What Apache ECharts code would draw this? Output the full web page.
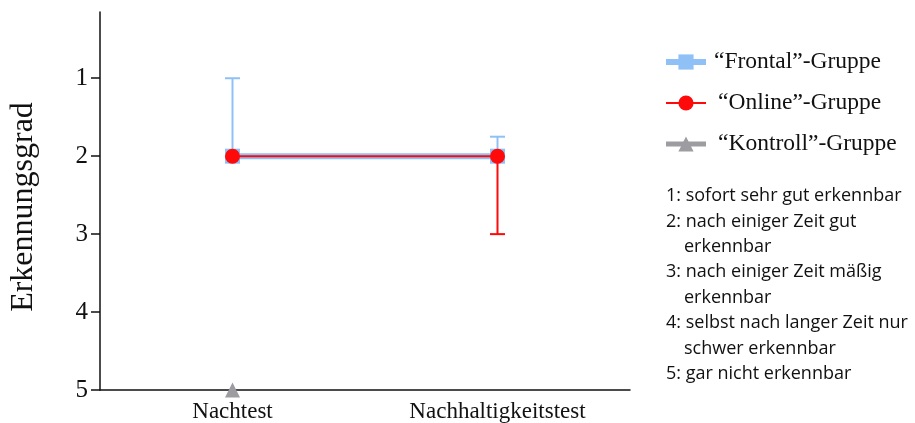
<!DOCTYPE html>
<html>
<head>
<meta charset="utf-8">
<script src="https://cdn.jsdelivr.net/npm/echarts@6/dist/echarts.min.js"></script>
<style>
  html, body { margin: 0; padding: 0; background: #fff; }
  #chart { width: 915px; height: 423px; }
</style>
</head>
<body>
<div id="chart"></div>
<script>
// Test phases on the x axis
const categories = ['Nachtest', 'Nachhaltigkeitstest'];
const yTicks = [1, 2, 3, 4, 5];

// Median rating per group (1 = best, 5 = worst)
const frontal = [2, 2];
const online = [2, 2];
const kontroll = [5, null];

// Spread per group: [category index, from, to]
const frontalRange = [[0, 2, 1], [1, 2, 1.75]];
const onlineRange = [[1, 2, 3]];

const legendNames = ['\u201CFrontal\u201D-Gruppe', '\u201COnline\u201D-Gruppe', '\u201CKontroll\u201D-Gruppe'];

// Scale explanation: [text, continuation line?]
const scaleNotes = [
  ['1: sofort sehr gut erkennbar', false],
  ['2: nach einiger Zeit gut', false],
  ['erkennbar', true],
  ['3: nach einiger Zeit mäßig', false],
  ['erkennbar', true],
  ['4: selbst nach langer Zeit nur', false],
  ['schwer erkennbar', true],
  ['5: gar nicht erkennbar', false]
];

const BLUE = '#8fc1f6';
const RED = '#ff0a0a';
const GRAY = '#9d9da1';
const SERIF = '"Liberation Serif", "DejaVu Serif", serif';
const SANS = '"Open Sans", Lato, sans-serif';

function errorBars(color) {
  return function (params, api) {
    const x = api.value(0);
    const a = api.coord([x, api.value(1)]);
    const b = api.coord([x, api.value(2)]);
    const half = 7.5;
    const style = { stroke: color, lineWidth: 2 };
    return {
      type: 'group',
      children: [
        { type: 'line', shape: { x1: a[0], y1: a[1], x2: b[0], y2: b[1] }, style: style },
        { type: 'line', shape: { x1: b[0] - half, y1: b[1], x2: b[0] + half, y2: b[1] }, style: style }
      ]
    };
  };
}

const noteTexts = scaleNotes.map(function (row, i) {
  return {
    type: 'text',
    left: row[1] ? 684 : 666,
    top: 187 + i * 25.4,
    style: { text: row[0], fontFamily: SANS, fontSize: 18, fill: '#111' }
  };
});

const chart = echarts.init(document.getElementById('chart'), null, { renderer: 'canvas' });

chart.setOption({
  animation: false,
  backgroundColor: '#fff',
  grid: { left: 98, right: 285, top: 12, bottom: 33 },
  legend: {
    orient: 'vertical',
    left: 663,
    top: 50,
    padding: 0,
    itemWidth: 40,
    itemHeight: 19,
    itemGap: 17,
    data: [
      { name: legendNames[0], textStyle: { padding: [0, 0, 0, 3] } },
      { name: legendNames[1], textStyle: { padding: [0, 0, 0, 7] } },
      { name: legendNames[2], textStyle: { padding: [0, 0, 0, 7] } }
    ],
    lineStyle: { width: 'inherit' },
    textStyle: { fontFamily: SERIF, fontSize: 23.5, color: '#111' }
  },
  xAxis: {
    type: 'category',
    data: categories,
    boundaryGap: true,
    axisLine: { onZero: false, lineStyle: { color: '#111', width: 1.5 } },
    axisTick: { alignWithLabel: true, length: 6, lineStyle: { color: '#111', width: 1.5 } },
    axisLabel: { fontFamily: SERIF, fontSize: 23, color: '#111', margin: 10 }
  },
  yAxis: {
    type: 'value',
    inverse: true,
    min: 0.15,
    max: 5,
    name: 'Erkennungsgrad',
    nameLocation: 'middle',
    nameRotate: 90,
    nameGap: 60,
    nameTextStyle: { fontFamily: SERIF, fontSize: 32, color: '#111', padding: [0, 12, 0, 0] },
    splitLine: { show: false },
    axisLine: { show: true, lineStyle: { color: '#111', width: 1.5 } },
    axisTick: { show: true, length: 9, customValues: yTicks, lineStyle: { color: '#111', width: 1.5 } },
    axisLabel: { customValues: yTicks, fontFamily: SERIF, fontSize: 25, color: '#111', margin: 12 }
  },
  graphic: noteTexts,
  series: [
    {
      type: 'custom',
      name: 'Frontal Streuung',
      renderItem: errorBars(BLUE),
      data: frontalRange,
      z: 1,
      silent: true
    },
    {
      type: 'line',
      name: legendNames[0],
      data: frontal,
      symbol: 'rect',
      symbolSize: 15,
      color: BLUE,
      lineStyle: { color: BLUE, width: 6 },
      itemStyle: { color: BLUE },
      z: 2
    },
    {
      type: 'custom',
      name: 'Online Streuung',
      renderItem: errorBars(RED),
      data: onlineRange,
      z: 3,
      silent: true
    },
    {
      type: 'line',
      name: legendNames[1],
      data: online,
      symbol: 'circle',
      symbolSize: 15,
      color: RED,
      lineStyle: { color: RED, width: 2 },
      itemStyle: { color: RED },
      z: 4
    },
    {
      type: 'line',
      name: legendNames[2],
      data: kontroll,
      symbol: 'triangle',
      symbolSize: 15,
      color: GRAY,
      lineStyle: { color: GRAY, width: 5 },
      itemStyle: { color: GRAY },
      clip: false,
      z: 5
    }
  ]
});
</script>
</body>
</html>
